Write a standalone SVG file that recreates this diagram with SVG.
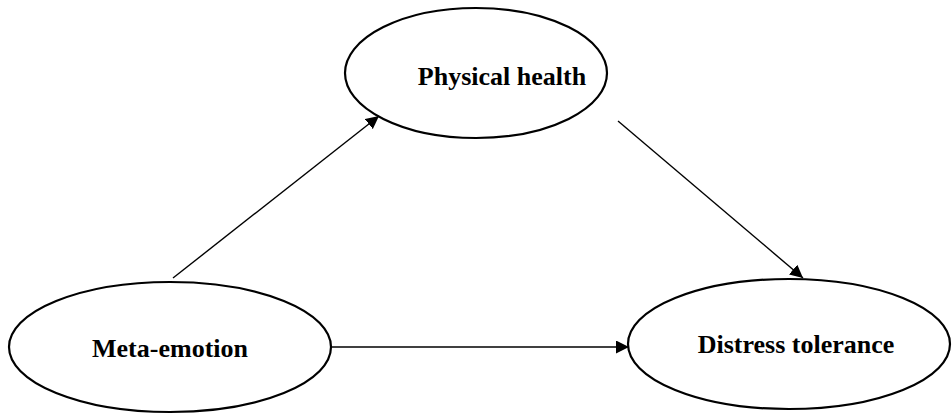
<svg xmlns="http://www.w3.org/2000/svg" width="952" height="414" viewBox="0 0 952 414">
<style>
.node{fill:#fff;stroke:#000;stroke-width:2.2}
.lbl{font-family:"Liberation Serif","Times New Roman",serif;font-weight:bold;font-size:26px;fill:#000}
.edge{stroke:#000;stroke-width:1.4;fill:none;marker-end:url(#ah)}
</style>
<defs>
<marker id="ah" viewBox="0 0 10 10" refX="10" refY="5" markerWidth="13" markerHeight="13" markerUnits="userSpaceOnUse" orient="auto">
<path d="M0,0 L10,5 L0,10 z" fill="#000"/>
</marker>
</defs>
<rect width="952" height="414" fill="#fff"/>
<g id="physical-health">
<ellipse class="node" cx="476" cy="73" rx="131" ry="65"/>
<text class="lbl" x="502" y="85" text-anchor="middle">Physical health</text>
</g>
<g id="meta-emotion">
<ellipse class="node" cx="170" cy="347" rx="161" ry="65"/>
<text class="lbl" x="170" y="357" text-anchor="middle">Meta-emotion</text>
</g>
<g id="distress-tolerance">
<ellipse class="node" cx="789" cy="344" rx="161" ry="65"/>
<text class="lbl" x="796" y="353" text-anchor="middle">Distress tolerance</text>
</g>
<g id="connectors">
<line class="edge" x1="173" y1="278" x2="379" y2="116"/>
<line class="edge" x1="618" y1="121" x2="803" y2="278"/>
<line class="edge" x1="331" y1="347" x2="629" y2="347"/>
</g>
</svg>
